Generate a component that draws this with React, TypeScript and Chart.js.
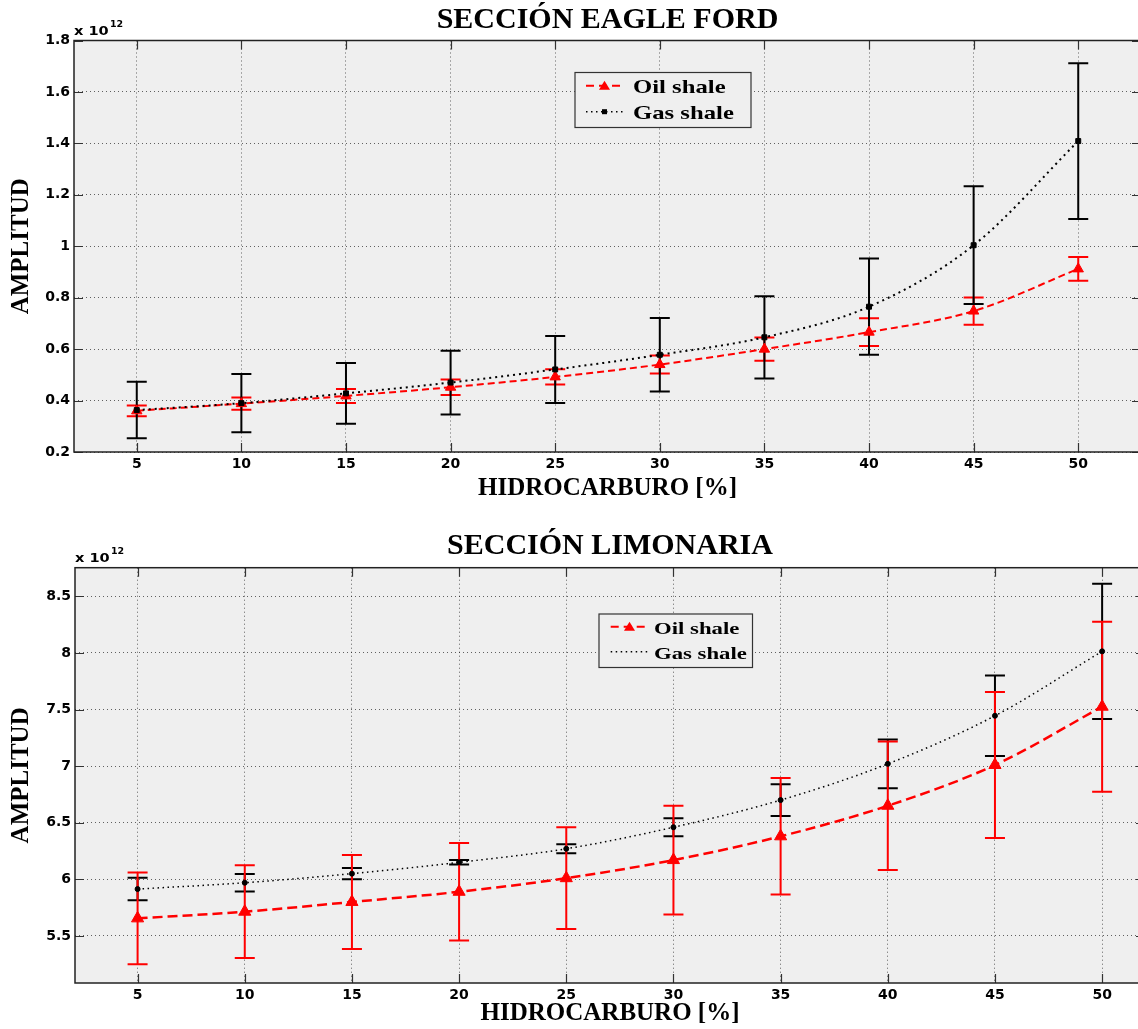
import React, { useEffect, useRef } from "react";
import { Chart, registerables } from "chart.js";
Chart.register(...registerables);

// ---------------- data ----------------
const hydrocarbonPct = [5, 10, 15, 20, 25, 30, 35, 40, 45, 50];
const xTickValues = [5, 10, 15, 20, 25, 30, 35, 40, 45, 50];

// Sección Eagle Ford (x 10^12)
const eagleOil = [0.36, 0.388, 0.418, 0.452, 0.492, 0.54, 0.6, 0.666, 0.748, 0.912];
const eagleOilErr = [0.021, 0.024, 0.027, 0.03, 0.03, 0.035, 0.045, 0.054, 0.053, 0.046];
const eagleGas = [0.363, 0.39, 0.428, 0.47, 0.521, 0.578, 0.646, 0.765, 1.004, 1.409];
const eagleGasErr = [0.11, 0.113, 0.118, 0.124, 0.13, 0.143, 0.16, 0.187, 0.229, 0.303];
const eagleYTicks = [0.2, 0.4, 0.6, 0.8, 1, 1.2, 1.4, 1.6, 1.8];

// Sección Limonaria (x 10^12)
const limOil = [5.655, 5.714, 5.8, 5.89, 6.01, 6.17, 6.38, 6.65, 7.01, 7.525];
const limOilErr = [0.405, 0.41, 0.415, 0.43, 0.45, 0.48, 0.515, 0.568, 0.645, 0.751];
const limGas = [5.914, 5.97, 6.05, 6.15, 6.27, 6.46, 6.7, 7.02, 7.445, 8.014];
const limGasErr = [0.1, 0.078, 0.05, 0.02, 0.04, 0.08, 0.14, 0.215, 0.355, 0.597];
const limYTicks = [5.5, 6, 6.5, 7, 7.5, 8, 8.5];

const seriesNames = ["Oil shale", "Gas shale"];
const panelTitles = ["SECCIÓN EAGLE FORD", "SECCIÓN LIMONARIA"];
const xAxisTitle = "HIDROCARBURO [%]";
const yAxisTitle = "AMPLITUD";
const exponentBase = "x 10";
const exponentPower = "12";

// ---------------- layout / style ----------------
const CANVAS_W = 1200;

type Panel = {
  title: string;
  oil: number[];
  oilErr: number[];
  gas: number[];
  gasErr: number[];
  yTicks: number[];
  yMin: number;
  yMax: number;
  xMin: number;
  xMax: number;
  canvasTop: number;
  canvasH: number;
  area: { left: number; top: number; right: number; bottom: number };
  titleY: number;
  xTitleY: number;
  yTitleX: number;
  expY: number;
  expSupY: number;
  legend: {
    x0: number; y0: number; x1: number; y1: number;
    s0: number; s1: number; textX: number; rows: number[];
    fontSize: number; gasMarker: boolean;
  };
  triR: number;
  gasStyle: "rect" | "circle";
  gasR: number;
  oilDash: number[];
  oilWidth: number;
  gasDash: number[];
  gasWidth: number;
  redOnTop: boolean;
};

const panels: Panel[] = [
  {
    title: panelTitles[0],
    oil: eagleOil, oilErr: eagleOilErr, gas: eagleGas, gasErr: eagleGasErr,
    yTicks: eagleYTicks, yMin: 0.2, yMax: 1.8, xMin: 2, xMax: 53,
    canvasTop: 0, canvasH: 515,
    area: { left: 74, top: 40.5, right: 1141, bottom: 452 },
    titleY: 20, xTitleY: 489, yTitleX: 22, expY: 35, expSupY: 27,
    legend: { x0: 575, y0: 72.5, x1: 751, y1: 127.5, s0: 586, s1: 623, textX: 633, rows: [85.7, 111.7], fontSize: 19, gasMarker: true },
    triR: 6, gasStyle: "rect", gasR: 3.5,
    oilDash: [7, 4], oilWidth: 2, gasDash: [2, 4], gasWidth: 2,
    redOnTop: false,
  },
  {
    title: panelTitles[1],
    oil: limOil, oilErr: limOilErr, gas: limGas, gasErr: limGasErr,
    yTicks: limYTicks, yMin: 5.084, yMax: 8.753, xMin: 2.08, xMax: 52,
    canvasTop: 515, canvasH: 514,
    area: { left: 75, top: 52.7, right: 1145, bottom: 468 },
    titleY: 31, xTitleY: 499, yTitleX: 22, expY: 47.3, expSupY: 39,
    legend: { x0: 599, y0: 99, x1: 752.5, y1: 152.5, s0: 610.7, s1: 648.3, textX: 654, rows: [111.7, 136.7], fontSize: 17.5, gasMarker: false },
    triR: 7, gasStyle: "circle", gasR: 2.5,
    oilDash: [10, 5], oilWidth: 2.5, gasDash: [1.5, 3.5], gasWidth: 1.5,
    redOnTop: true,
  },
];

function stretchedText(
  ctx: CanvasRenderingContext2D, text: string, x: number, y: number,
  font: string, sx: number, align: CanvasTextAlign, baseline: CanvasTextBaseline
) {
  ctx.save();
  ctx.font = font;
  ctx.fillStyle = "#000";
  ctx.textAlign = align;
  ctx.textBaseline = baseline;
  ctx.translate(x, y);
  ctx.scale(sx, 1);
  ctx.fillText(text, 0, 0);
  ctx.restore();
}

function drawErrorBars(chart: any, vals: number[], errs: number[], color: string, width: number, capHalf: number) {
  const ctx: CanvasRenderingContext2D = chart.ctx;
  const xs = chart.scales.x;
  const ys = chart.scales.y;
  ctx.save();
  ctx.strokeStyle = color;
  ctx.lineWidth = width;
  ctx.setLineDash([]);
  hydrocarbonPct.forEach((xv, i) => {
    const px = xs.getPixelForValue(xv);
    const t = ys.getPixelForValue(vals[i] + errs[i]);
    const b = ys.getPixelForValue(vals[i] - errs[i]);
    ctx.beginPath();
    ctx.moveTo(px, t);
    ctx.lineTo(px, b);
    ctx.moveTo(px - capHalf, t);
    ctx.lineTo(px + capHalf, t);
    ctx.moveTo(px - capHalf, b);
    ctx.lineTo(px + capHalf, b);
    ctx.stroke();
  });
  ctx.restore();
}

function makeChart(canvas: HTMLCanvasElement, p: Panel) {
  const area = p.area;
  const decor = {
    id: "panelDecor",
    beforeDraw(chart: any) {
      const { ctx, chartArea: a } = chart;
      ctx.save();
      ctx.fillStyle = "#efefef";
      ctx.fillRect(a.left, a.top, a.right - a.left, a.bottom - a.top);
      ctx.restore();
    },
    beforeDatasetsDraw(chart: any) {
      if (p.redOnTop) {
        drawErrorBars(chart, p.gas, p.gasErr, "#000", 2, 10);
        drawErrorBars(chart, p.oil, p.oilErr, "#ff0000", 2, 10);
      } else {
        drawErrorBars(chart, p.oil, p.oilErr, "#ff0000", 2, 10);
        drawErrorBars(chart, p.gas, p.gasErr, "#000", 2, 10);
      }
    },
    afterDatasetsDraw(chart: any) {
      const { ctx, chartArea: a } = chart;
      const xs = chart.scales.x;
      const ys = chart.scales.y;
      ctx.save();
      ctx.setLineDash([]);
      ctx.strokeStyle = "#333";
      ctx.lineWidth = 1.2;
      const tl = 9;
      ctx.beginPath();
      xTickValues.forEach((v) => {
        const px = Math.round(xs.getPixelForValue(v)) + 0.5;
        ctx.moveTo(px, a.bottom);
        ctx.lineTo(px, a.bottom - tl);
        ctx.moveTo(px, a.top);
        ctx.lineTo(px, a.top + tl);
      });
      p.yTicks.forEach((v) => {
        const py = Math.round(ys.getPixelForValue(v)) + 0.5;
        ctx.moveTo(a.left, py);
        ctx.lineTo(a.left + tl, py);
        ctx.moveTo(a.right, py);
        ctx.lineTo(a.right - tl, py);
      });
      ctx.stroke();
      ctx.strokeStyle = "#222";
      ctx.lineWidth = 1.5;
      ctx.strokeRect(a.left, a.top, a.right - a.left, a.bottom - a.top);
      ctx.restore();
    },
    afterDraw(chart: any) {
      const { ctx, chartArea: a } = chart;
      const cx = (a.left + a.right) / 2;
      const cy = (a.top + a.bottom) / 2;
      // title
      stretchedText(ctx, p.title, cx, p.titleY, 'bold 30px "Liberation Serif"', 1, "center", "middle");
      // x axis title
      stretchedText(ctx, xAxisTitle, cx, p.xTitleY, 'bold 25px "Liberation Serif"', 1, "center", "middle");
      // y axis title
      ctx.save();
      ctx.translate(p.yTitleX, cy);
      ctx.rotate(-Math.PI / 2);
      ctx.font = 'bold 25px "Liberation Serif"';
      ctx.fillStyle = "#000";
      ctx.textAlign = "center";
      ctx.textBaseline = "middle";
      ctx.fillText(yAxisTitle, 0, 0);
      ctx.restore();
      // exponent
      stretchedText(ctx, exponentBase, a.left, p.expY, 'bold 13px "DejaVu Sans"', 1.12, "left", "alphabetic");
      stretchedText(ctx, exponentPower, a.left + 36, p.expSupY, 'bold 9px "DejaVu Sans"', 1.05, "left", "alphabetic");
      // legend
      const L = p.legend;
      ctx.save();
      ctx.fillStyle = "#efefef";
      ctx.fillRect(L.x0, L.y0, L.x1 - L.x0, L.y1 - L.y0);
      ctx.strokeStyle = "#333";
      ctx.lineWidth = 1.2;
      ctx.strokeRect(L.x0, L.y0, L.x1 - L.x0, L.y1 - L.y0);
      // oil sample
      ctx.strokeStyle = "#ff0000";
      ctx.lineWidth = 2;
      ctx.setLineDash([8, 5]);
      ctx.beginPath();
      ctx.moveTo(L.s0, L.rows[0]);
      ctx.lineTo(L.s1, L.rows[0]);
      ctx.stroke();
      ctx.setLineDash([]);
      const mx = (L.s0 + L.s1) / 2;
      ctx.fillStyle = "#ff0000";
      ctx.beginPath();
      ctx.moveTo(mx, L.rows[0] - 5);
      ctx.lineTo(mx + 5.5, L.rows[0] + 4);
      ctx.lineTo(mx - 5.5, L.rows[0] + 4);
      ctx.closePath();
      ctx.fill();
      // gas sample
      ctx.strokeStyle = "#000";
      ctx.lineWidth = 1.5;
      ctx.setLineDash([1.5, 3.5]);
      ctx.beginPath();
      ctx.moveTo(L.s0, L.rows[1]);
      ctx.lineTo(L.s1, L.rows[1]);
      ctx.stroke();
      ctx.setLineDash([]);
      if (L.gasMarker) {
        ctx.fillStyle = "#000";
        ctx.fillRect(mx - 2.5, L.rows[1] - 2.5, 5, 5);
      }
      ctx.restore();
      stretchedText(ctx, seriesNames[0], L.textX, L.rows[0] + 7.5, `bold ${L.fontSize}px "Liberation Serif"`, 1.3, "left", "alphabetic");
      stretchedText(ctx, seriesNames[1], L.textX, L.rows[1] + 7.5, `bold ${L.fontSize}px "Liberation Serif"`, 1.3, "left", "alphabetic");
    },
  };

  const tickFont = { family: '"DejaVu Sans"', weight: "bold" as const, size: 14 };

  return new Chart(canvas, {
    type: "line",
    data: {
      datasets: [
        {
          label: seriesNames[1],
          data: hydrocarbonPct.map((x, i) => ({ x, y: p.gas[i] })),
          borderColor: "#000",
          backgroundColor: "#000",
          borderWidth: p.gasWidth,
          borderDash: p.gasDash,
          pointStyle: p.gasStyle,
          pointRadius: p.gasR,
          pointBorderWidth: 1,
          pointBorderColor: "#000",
          pointBackgroundColor: "#000",
          cubicInterpolationMode: "monotone",
          fill: false,
        },
        {
          label: seriesNames[0],
          data: hydrocarbonPct.map((x, i) => ({ x, y: p.oil[i] })),
          borderColor: "#ff0000",
          backgroundColor: "#ff0000",
          borderWidth: p.oilWidth,
          borderDash: p.oilDash,
          pointStyle: "triangle",
          pointRadius: p.triR,
          pointBorderWidth: 1,
          pointBorderColor: "#ff0000",
          pointBackgroundColor: "#ff0000",
          cubicInterpolationMode: "monotone",
          fill: false,
        },
      ],
    },
    options: {
      animation: false,
      responsive: false,
      devicePixelRatio: 1,
      events: [],
      layout: { padding: { left: 0, top: area.top, right: CANVAS_W - area.right, bottom: 0 } },
      plugins: {
        legend: { display: false },
        title: { display: false },
        tooltip: { enabled: false },
      },
      scales: {
        x: {
          type: "linear",
          min: p.xMin,
          max: p.xMax,
          afterBuildTicks: (s: any) => {
            s.ticks = xTickValues.map((v) => ({ value: v }));
          },
          afterFit: (s: any) => {
            s.height = p.canvasH - area.bottom;
          },
          ticks: {
            autoSkip: false,
            maxRotation: 0,
            minRotation: 0,
            padding: 4,
            color: "#000",
            font: tickFont,
            callback: (v: any) => String(v),
          },
          grid: { color: "rgba(0,0,0,0.6)", lineWidth: 1, drawTicks: false },
          border: { display: false, dash: [1, 3] },
        },
        y: {
          type: "linear",
          min: p.yMin,
          max: p.yMax,
          afterBuildTicks: (s: any) => {
            s.ticks = p.yTicks.map((v) => ({ value: v }));
          },
          afterFit: (s: any) => {
            s.width = area.left;
          },
          ticks: {
            padding: 4,
            color: "#000",
            font: tickFont,
            callback: (v: any) => String(Number(Number(v).toFixed(2))),
          },
          grid: { color: "rgba(0,0,0,0.6)", lineWidth: 1, drawTicks: false },
          border: { display: false, dash: [1, 3] },
        },
      },
    },
    plugins: [decor],
  } as any);
}

export default function App() {
  const topRef = useRef<HTMLCanvasElement>(null);
  const botRef = useRef<HTMLCanvasElement>(null);
  useEffect(() => {
    const charts = [
      makeChart(topRef.current as HTMLCanvasElement, panels[0]),
      makeChart(botRef.current as HTMLCanvasElement, panels[1]),
    ];
    return () => charts.forEach((c) => c.destroy());
  }, []);
  return (
    <div
      style={{
        position: "absolute",
        left: 0,
        top: 0,
        width: 1138,
        height: 1029,
        overflow: "hidden",
        background: "#fff",
      }}
    >
      <canvas
        ref={topRef}
        width={CANVAS_W}
        height={panels[0].canvasH}
        style={{ position: "absolute", left: 0, top: panels[0].canvasTop, width: CANVAS_W, height: panels[0].canvasH }}
      />
      <canvas
        ref={botRef}
        width={CANVAS_W}
        height={panels[1].canvasH}
        style={{ position: "absolute", left: 0, top: panels[1].canvasTop, width: CANVAS_W, height: panels[1].canvasH }}
      />
    </div>
  );
}
